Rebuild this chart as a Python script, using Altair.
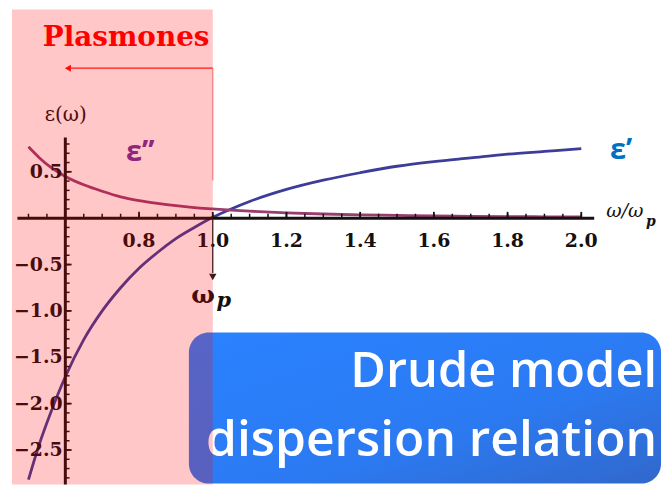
import altair as alt
import pandas as pd

# ---- data ----
omega = [0.50, 0.53, 0.56, 0.60, 0.65, 0.70, 0.75, 0.80, 0.85, 0.90, 0.95, 1.00,
         1.05, 1.10, 1.20, 1.30, 1.40, 1.50, 1.60, 1.70, 1.80, 1.90, 2.00]
eps_real = [-2.82, -2.43, -2.10, -1.71, -1.31, -1.00, -0.75, -0.54, -0.37, -0.22, -0.10, 0.01,
            0.10, 0.18, 0.31, 0.41, 0.49, 0.56, 0.61, 0.65, 0.69, 0.72, 0.75]
eps_imag = [0.77, 0.65, 0.55, 0.45, 0.36, 0.29, 0.23, 0.19, 0.16, 0.135, 0.115, 0.10,
            0.086, 0.075, 0.057, 0.045, 0.036, 0.030, 0.024, 0.020, 0.017, 0.015, 0.013]

x_tick_values = [0.8, 1.0, 1.2, 1.4, 1.6, 1.8, 2.0]
x_tick_labels = ["0.8", "1.0", "1.2", "1.4", "1.6", "1.8", "2.0"]
y_tick_values = [0.5, -0.5, -1.0, -1.5, -2.0, -2.5]
y_tick_labels = ["0.5", "\u22120.5", "\u22121.0", "\u22121.5", "\u22122.0", "\u22122.5"]
x_minor = [round(0.5 + 0.05 * i, 2) for i in range(31)]
y_minor = [round(0.8 - 0.1 * i, 1) for i in range(37)]

# ---- scales (pixel geometry) ----
W, H = 658, 478
XS = alt.Scale(domain=[0.44444, 2.21899], nice=False, zero=False)
YS = alt.Scale(domain=[-2.8725, 2.2508], nice=False, zero=False)
Y_TOP, Y_BOT = 2.2508, -2.8725


def X(f):
    return alt.X(f, scale=XS, axis=None)


def Y(f):
    return alt.Y(f, scale=YS, axis=None)


def XD(v):
    return alt.XDatum(v, scale=XS, axis=None)


def YD(v):
    return alt.YDatum(v, scale=YS, axis=None)


AX = "#161010"
SERIF = "DejaVu Serif"

curves = pd.DataFrame({"w": omega, "re": eps_real, "im": eps_imag})
xt = pd.DataFrame({"v": x_tick_values, "t": x_tick_labels})
yt = pd.DataFrame({"v": y_tick_values, "t": y_tick_labels})
xm = pd.DataFrame({"v": x_minor})
ym = pd.DataFrame({"v": y_minor})

base = alt.Chart(curves)

box = alt.Chart().mark_rect(
    cornerRadius=20,
    color=alt.Gradient(gradient="linear",
                       stops=[alt.GradientStop(color="#2a82ff", offset=0),
                              alt.GradientStop(color="#2b7af2", offset=0.6),
                              alt.GradientStop(color="#3168cc", offset=1)],
                       x1=0, y1=0, x2=1, y2=1),
).encode(x=XD(0.9353), x2=alt.X2Datum(2.2163), y=YD(-1.2326), y2=alt.Y2Datum(-2.8617))

line_re = base.mark_line(color="#3D3D99", strokeWidth=2.8, interpolate="monotone").encode(x=X("w:Q"), y=Y("re:Q"))
line_im = base.mark_line(color="#993D71", strokeWidth=2.8, interpolate="monotone").encode(x=X("w:Q"), y=Y("im:Q"))

x_axis = alt.Chart().mark_rule(color=AX, strokeWidth=3).encode(
    x=XD(0.47), x2=alt.X2Datum(2.035), y=YD(0))
y_axis = alt.Chart().mark_rule(color=AX, strokeWidth=3).encode(
    x=XD(0.6), y=YD(0.87), y2=alt.Y2Datum(Y_BOT))

x_ticks_minor = alt.Chart(xm).mark_rule(color=AX, strokeWidth=1.5).encode(
    x=X("v:Q"), y=YD(0), y2=alt.Y2Datum(0.048))
x_ticks_major = alt.Chart(xt).mark_rule(color=AX, strokeWidth=1.8).encode(
    x=X("v:Q"), y=YD(0), y2=alt.Y2Datum(0.068))
y_ticks_minor = alt.Chart(ym).mark_rule(color=AX, strokeWidth=1.5).encode(
    y=Y("v:Q"), x=XD(0.6), x2=alt.X2Datum(0.6115))
y_ticks_major = alt.Chart(yt).mark_rule(color=AX, strokeWidth=1.8).encode(
    y=Y("v:Q"), x=XD(0.6), x2=alt.X2Datum(0.617))

x_labels = alt.Chart(xt).mark_text(font=SERIF, fontWeight="bold", fontSize=19, color=AX,
                                   align="center", baseline="alphabetic").encode(
    x=X("v:Q"), y=YD(-0.311), text="t:N")
y_labels = alt.Chart(yt).mark_text(font=SERIF, fontWeight="bold", fontSize=19, color=AX,
                                   align="right", baseline="middle", dx=1).encode(
    x=XD(0.5901), y=Y("v:Q"), text="t:N")


def label(txt, x, y, **kw):
    return alt.Chart().mark_text(text=txt, baseline="alphabetic", **kw).encode(x=XD(x), y=YD(y))


t_plas = label("Plasmones", 0.5388, 1.854, font=SERIF, fontWeight="bold", fontSize=28, color="#ff0000", align="left")
t_eps = label("\u03b5(\u03c9)", 0.6009, 1.050, font=SERIF, fontSize=20, color=AX, align="center")
t_epp = label("\u03b5\u2019\u2019", 0.8031, 0.6217, font="Open Sans", fontWeight="bold", fontSize=29, color="#7030A0", align="center")
t_ep = label("\u03b5\u2019", 2.1084, 0.643, font="Open Sans", fontWeight="bold", fontSize=29, color="#0070C0", align="center")
t_ww = label("\u03c9/\u03c9", 2.068, 0.0107, font=SERIF, fontStyle="italic", fontSize=19, color=AX, align="left")
t_wwp = label("p", 2.1753, -0.0857, font=SERIF, fontStyle="italic", fontWeight="bold", fontSize=14, color=AX, align="left")
t_wp = label("\u03c9", 1.006, -0.910, font=SERIF, fontWeight="bold", fontSize=25, color="#111111", align="right")
t_wpp = label("p", 1.010, -0.954, font=SERIF, fontStyle="italic", fontWeight="bold", fontSize=21, color="#111111", align="left")
t_box1 = label("Drude model", 2.2055, -1.822, font="Open Sans", fontWeight=600, fontSize=49, color="white", align="right")
t_box2 = label("dispersion relation", 2.2055, -2.562, font="Open Sans", fontWeight=600, fontSize=50, color="white", align="right")

# arrows
red_line = alt.Chart().mark_rule(color="#ff2020", strokeWidth=1.3).encode(
    x=XD(0.615), x2=alt.X2Datum(1.0), y=YD(1.618))
red_head = alt.Chart().mark_point(shape="triangle-left", filled=True, color="#ff1010", size=50, opacity=1).encode(
    x=XD(0.607), y=YD(1.618))
red_vert = alt.Chart().mark_rule(color="#e03030", strokeWidth=1.5, opacity=0.45).encode(
    x=XD(1.0), y=YD(1.618), y2=alt.Y2Datum(0.407))
blk_line = alt.Chart().mark_rule(color="#222222", strokeWidth=1.3).encode(
    x=XD(1.0), y=YD(0), y2=alt.Y2Datum(-0.59))
blk_head = alt.Chart().mark_point(shape="triangle-down", filled=True, color="#222222", size=55, opacity=1).encode(
    x=XD(1.0), y=YD(-0.635))

overlay = alt.Chart().mark_rect(color="#ff0000", opacity=0.22).encode(
    x=XD(0.45523), x2=alt.X2Datum(1.0), y=YD(Y_TOP), y2=alt.Y2Datum(Y_BOT))

chart = alt.layer(
    box, line_re, line_im, x_axis, y_axis, x_ticks_minor, x_ticks_major, y_ticks_minor, y_ticks_major,
    x_labels, y_labels, t_plas, t_eps, t_epp, t_ep, t_ww, t_wwp, t_wp, t_wpp,
    red_line, red_head, red_vert, blk_line, blk_head, t_box1, t_box2, overlay,
).properties(width=W, height=H, padding=0, background="white").configure_view(stroke=None)

chart.save("out.html", embed_options={"renderer": "svg", "actions": False})
